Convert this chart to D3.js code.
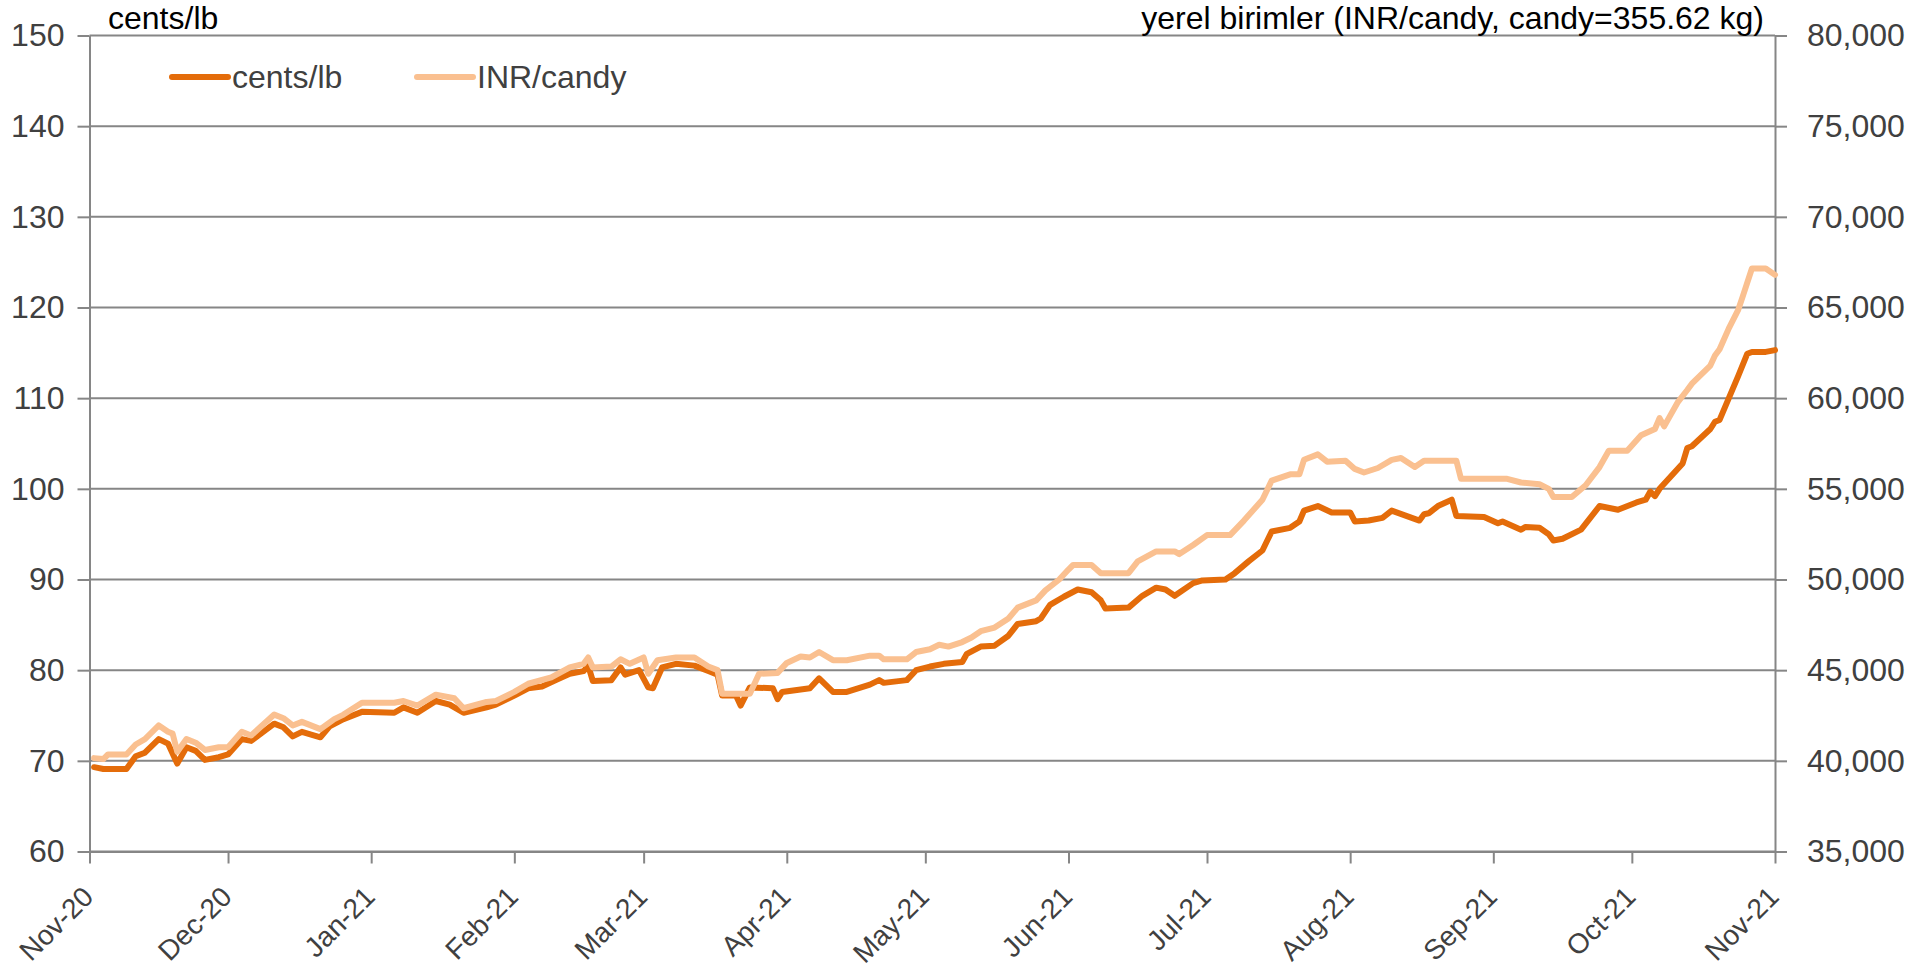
<!DOCTYPE html>
<html lang="tr">

<head>
  <meta charset="utf-8">
  <title>Pamuk fiyatı: cents/lb ve INR/candy</title>
  <script src="https://d3js.org/d3.v7.min.js"></script>
  <style>
    body { margin: 0; background: #ffffff; }
    svg text { font-family: "Liberation Sans", Arial, sans-serif; }
  </style>
</head>

<body>
  <div id="chart"></div>

  <script type="text/javascript">
    "use strict"

    // seri 1: cents/lb (sol eksen)
    var centsTarih = [
      "2020-11-02", "2020-11-04", "2020-11-09", "2020-11-11", "2020-11-13", "2020-11-16", "2020-11-18", "2020-11-20",
      "2020-11-22", "2020-11-24", "2020-11-26", "2020-11-29", "2020-12-01", "2020-12-04", "2020-12-06", "2020-12-11",
      "2020-12-13", "2020-12-15", "2020-12-17", "2020-12-21", "2020-12-23", "2020-12-26", "2020-12-30", "2021-01-06",
      "2021-01-08", "2021-01-11", "2021-01-15", "2021-01-18", "2021-01-21", "2021-01-26", "2021-01-28", "2021-02-01",
      "2021-02-04", "2021-02-07", "2021-02-10", "2021-02-13", "2021-02-16", "2021-02-17", "2021-02-18", "2021-02-22",
      "2021-02-24", "2021-02-25", "2021-02-28", "2021-03-02", "2021-03-03", "2021-03-05", "2021-03-08", "2021-03-12",
      "2021-03-15", "2021-03-17", "2021-03-18", "2021-03-21", "2021-03-22", "2021-03-24", "2021-03-29", "2021-03-30",
      "2021-03-31", "2021-04-06", "2021-04-08", "2021-04-11", "2021-04-14", "2021-04-19", "2021-04-21", "2021-04-22",
      "2021-04-27", "2021-04-29", "2021-05-02", "2021-05-05", "2021-05-09", "2021-05-10", "2021-05-13", "2021-05-16",
      "2021-05-19", "2021-05-21", "2021-05-25", "2021-05-26", "2021-05-28", "2021-05-31", "2021-06-03", "2021-06-06",
      "2021-06-08", "2021-06-09", "2021-06-14", "2021-06-17", "2021-06-20", "2021-06-22", "2021-06-24", "2021-06-28",
      "2021-06-30", "2021-07-05", "2021-07-07", "2021-07-10", "2021-07-13", "2021-07-15", "2021-07-19", "2021-07-21",
      "2021-07-22", "2021-07-25", "2021-07-28", "2021-08-01", "2021-08-02", "2021-08-05", "2021-08-08", "2021-08-10",
      "2021-08-16", "2021-08-17", "2021-08-18", "2021-08-20", "2021-08-23", "2021-08-24", "2021-08-30", "2021-09-02",
      "2021-09-03", "2021-09-07", "2021-09-08", "2021-09-11", "2021-09-13", "2021-09-14", "2021-09-16", "2021-09-20",
      "2021-09-24", "2021-09-28", "2021-10-02", "2021-10-04", "2021-10-05", "2021-10-06", "2021-10-07", "2021-10-12",
      "2021-10-13", "2021-10-14", "2021-10-18", "2021-10-19", "2021-10-20", "2021-10-22", "2021-10-24", "2021-10-26",
      "2021-10-27", "2021-10-30", "2021-11-01"
    ];
    var centsLb = [
      69.3, 69.1, 69.1, 70.5, 70.9, 72.4, 71.9, 69.7,
      71.5, 71.1, 70.1, 70.4, 70.7, 72.4, 72.2, 74.1,
      73.7, 72.7, 73.2, 72.6, 73.8, 74.6, 75.4, 75.3,
      75.9, 75.3, 76.6, 76.2, 75.3, 75.9, 76.2, 77.2,
      78.0, 78.2, 78.9, 79.6, 79.9, 80.5, 78.8, 78.9,
      80.3, 79.5, 80.0, 78.1, 78.0, 80.3, 80.7, 80.5,
      79.9, 79.5, 77.2, 77.2, 76.1, 78.1, 78.0, 76.8,
      77.6, 78.0, 79.1, 77.6, 77.6, 78.4, 78.9, 78.6,
      78.9, 80.0, 80.4, 80.7, 80.9, 81.8, 82.6, 82.7,
      83.8, 85.1, 85.4, 85.7, 87.2, 88.1, 88.9, 88.6,
      87.7, 86.8, 86.9, 88.2, 89.1, 88.9, 88.2, 89.6,
      89.9, 90.0, 90.7, 92.0, 93.2, 95.3, 95.7, 96.4,
      97.6, 98.1, 97.4, 97.4, 96.4, 96.5, 96.8, 97.6,
      96.5, 97.2, 97.3, 98.1, 98.8, 97.0, 96.9, 96.2,
      96.4, 95.5, 95.8, 95.7, 95.0, 94.3, 94.5, 95.5,
      98.1, 97.7, 98.5, 98.8, 99.7, 99.2, 100.0, 102.8,
      104.5, 104.7, 106.6, 107.4, 107.6, 110.0, 112.4, 114.9,
      115.1, 115.1, 115.3
    ];

    // seri 2: INR/candy (sag eksen)
    var inrTarih = [
      "2020-11-02", "2020-11-04", "2020-11-05", "2020-11-09", "2020-11-11", "2020-11-13", "2020-11-16", "2020-11-18",
      "2020-11-19", "2020-11-20", "2020-11-22", "2020-11-24", "2020-11-26", "2020-11-29", "2020-12-01", "2020-12-04",
      "2020-12-06", "2020-12-11", "2020-12-13", "2020-12-15", "2020-12-17", "2020-12-21", "2020-12-24", "2020-12-26",
      "2020-12-30", "2021-01-06", "2021-01-08", "2021-01-11", "2021-01-15", "2021-01-19", "2021-01-21", "2021-01-26",
      "2021-01-28", "2021-02-01", "2021-02-04", "2021-02-09", "2021-02-13", "2021-02-16", "2021-02-17", "2021-02-18",
      "2021-02-22", "2021-02-24", "2021-02-26", "2021-03-01", "2021-03-02", "2021-03-04", "2021-03-08", "2021-03-12",
      "2021-03-15", "2021-03-17", "2021-03-18", "2021-03-24", "2021-03-26", "2021-03-30", "2021-04-01", "2021-04-04",
      "2021-04-06", "2021-04-08", "2021-04-11", "2021-04-14", "2021-04-19", "2021-04-21", "2021-04-22", "2021-04-27",
      "2021-04-29", "2021-05-02", "2021-05-04", "2021-05-06", "2021-05-09", "2021-05-11", "2021-05-13", "2021-05-16",
      "2021-05-19", "2021-05-21", "2021-05-25", "2021-05-27", "2021-05-30", "2021-06-01", "2021-06-02", "2021-06-06",
      "2021-06-08", "2021-06-14", "2021-06-16", "2021-06-20", "2021-06-24", "2021-06-25", "2021-06-28", "2021-07-01",
      "2021-07-06", "2021-07-09", "2021-07-13", "2021-07-15", "2021-07-19", "2021-07-21", "2021-07-22", "2021-07-25",
      "2021-07-27", "2021-07-31", "2021-08-02", "2021-08-04", "2021-08-07", "2021-08-10", "2021-08-12", "2021-08-15",
      "2021-08-17", "2021-08-24", "2021-08-25", "2021-09-04", "2021-09-07", "2021-09-11", "2021-09-13", "2021-09-14",
      "2021-09-18", "2021-09-21", "2021-09-24", "2021-09-26", "2021-09-30", "2021-10-03", "2021-10-06", "2021-10-07",
      "2021-10-08", "2021-10-09", "2021-10-11", "2021-10-13", "2021-10-14", "2021-10-18", "2021-10-19", "2021-10-20",
      "2021-10-22", "2021-10-24", "2021-10-25", "2021-10-27", "2021-10-30", "2021-11-01"
    ];
    var inrCandy = [
      40150, 40100, 40350, 40350, 40900, 41200, 41950, 41600,
      41500, 40500, 41200, 41000, 40600, 40750, 40750, 41600,
      41400, 42550, 42350, 41950, 42150, 41750, 42300, 42550,
      43200, 43200, 43300, 43050, 43650, 43450, 42900, 43250,
      43300, 43800, 44250, 44600, 45150, 45350, 45700, 45150,
      45200, 45600, 45350, 45700, 44800, 45550, 45700, 45700,
      45200, 45000, 43700, 43700, 44800, 44850, 45400, 45750,
      45700, 46000, 45550, 45550, 45800, 45800, 45600, 45600,
      46000, 46150, 46400, 46300, 46550, 46800, 47150, 47350,
      47850, 48450, 48850, 49400, 50000, 50550, 50800, 50800,
      50350, 50350, 51000, 51550, 51550, 51400, 51900, 52450,
      52450, 53250, 54400, 55450, 55800, 55800, 56600, 56900,
      56500, 56550, 56100, 55900, 56150, 56600, 56700, 56200,
      56550, 56550, 55550, 55550, 55350, 55250, 55000, 54550,
      54550, 55200, 56200, 57100, 57100, 57950, 58300, 58900,
      58450, 58900, 59800, 60450, 60800, 61800, 62350, 62700,
      63850, 64850, 65600, 67150, 67150, 66800
    ];

    // eksen degerleri
    var solTikler = [60, 70, 80, 90, 100, 110, 120, 130, 140, 150];
    var sagTikler = [35000, 40000, 45000, 50000, 55000, 60000, 65000, 70000, 75000, 80000];
    var aylar = ["2020-11-01", "2020-12-01", "2021-01-01", "2021-02-01", "2021-03-01", "2021-04-01",
                 "2021-05-01", "2021-06-01", "2021-07-01", "2021-08-01", "2021-09-01", "2021-10-01", "2021-11-01"];

    var seriAdlari = ["cents/lb", "INR/candy"];
    var renkler = ["#e46c0a", "#fac090"];

    // svg ve cizim alani
    var larguraSVG = 1921, alturaSVG = 980;
    var x0 = 89.5, x1 = 1775, yTop = 35.5, yBottom = 851.5;
    var cinza = "#868686", textoCinza = "#404040";
    var fonte = 32, fonteAy = 28;

    var parse = d3.timeParse("%Y-%m-%d");

    function desenha() {
      var svg = d3.select("#chart")
          .append("svg")
          .attr("width", larguraSVG)
          .attr("height", alturaSVG);

      var x = d3.scaleTime()
          .domain([parse(aylar[0]), parse(aylar[aylar.length - 1])])
          .range([x0, x1]);
      var ySol = d3.scaleLinear()
          .domain([60, 150])
          .range([yBottom, yTop]);
      var ySag = d3.scaleLinear()
          .domain([35000, 80000])
          .range([yBottom, yTop]);

      // yatay izgara cizgileri
      svg.append("g")
          .selectAll("line")
          .data(solTikler)
          .enter()
          .append("line")
          .attr("x1", x0).attr("x2", x1)
          .attr("y1", d => ySol(d)).attr("y2", d => ySol(d))
          .attr("stroke", cinza)
          .attr("stroke-width", 2);

      // sol eksen
      var eSol = svg.append("g")
          .attr("transform", "translate(" + x0 + ",0)")
          .call(d3.axisLeft(ySol).tickValues(solTikler).tickSize(12).tickPadding(13).tickSizeOuter(0));

      // sag eksen
      var eSag = svg.append("g")
          .attr("transform", "translate(" + x1 + ",0)")
          .call(d3.axisRight(ySag).tickValues(sagTikler).tickSize(12).tickPadding(20).tickSizeOuter(0)
                .tickFormat(d3.format(",")));

      // alt eksen (aylar)
      var eAlt = svg.append("g")
          .attr("transform", "translate(0," + yBottom + ")")
          .call(d3.axisBottom(x).tickValues(aylar.map(parse)).tickSize(12).tickSizeOuter(0)
                .tickFormat(d3.timeFormat("%b-%y")));

      [eSol, eSag, eAlt].forEach(function(e) {
        e.select(".domain").attr("stroke", cinza).attr("stroke-width", 2);
        e.selectAll(".tick line").attr("stroke", cinza).attr("stroke-width", 2);
        e.selectAll(".tick text")
            .attr("fill", textoCinza)
            .style("font-size", fonte + "px")
            .style("font-family", "'Liberation Sans', Arial, sans-serif");
      });

      eAlt.selectAll(".tick text")
          .attr("x", 0).attr("y", 0).attr("dy", "0.35em")
          .attr("text-anchor", "end")
          .attr("transform", "translate(-2,40) rotate(-45)")
          .style("font-size", fonteAy + "px");

      // cizgiler
      var linhaSol = d3.line()
          .x(d => x(d[0]))
          .y(d => ySol(d[1]));
      var linhaSag = d3.line()
          .x(d => x(d[0]))
          .y(d => ySag(d[1]));

      svg.append("path")
          .datum(centsTarih.map((t, i) => [parse(t), centsLb[i]]))
          .attr("d", linhaSol)
          .attr("fill", "none")
          .attr("stroke", renkler[0])
          .attr("stroke-width", 6)
          .attr("stroke-linejoin", "round")
          .attr("stroke-linecap", "round");

      svg.append("path")
          .datum(inrTarih.map((t, i) => [parse(t), inrCandy[i]]))
          .attr("d", linhaSag)
          .attr("fill", "none")
          .attr("stroke", renkler[1])
          .attr("stroke-width", 6)
          .attr("stroke-linejoin", "round")
          .attr("stroke-linecap", "round");

      // eksen basliklari
      svg.append("text")
          .attr("x", 108).attr("y", 29)
          .attr("fill", "#000")
          .style("font-size", fonte + "px")
          .text("cents/lb");
      svg.append("text")
          .attr("x", 1764).attr("y", 29)
          .attr("text-anchor", "end")
          .attr("fill", "#000")
          .style("font-size", fonte + "px")
          .text("yerel birimler (INR/candy, candy=355.62 kg)");

      // lejant
      var lejX = [172, 417];
      var lej = svg.append("g")
          .selectAll("g")
          .data(seriAdlari)
          .enter()
          .append("g")
          .attr("transform", (d, i) => "translate(" + lejX[i] + ",77)");
      lej.append("line")
          .attr("x1", 0).attr("x2", 56)
          .attr("stroke", (d, i) => renkler[i])
          .attr("stroke-width", 6)
          .attr("stroke-linecap", "round");
      lej.append("text")
          .attr("x", 60).attr("dy", "0.35em")
          .attr("fill", textoCinza)
          .style("font-size", fonte + "px")
          .text(d => d);
    }

    desenha();
  </script>
</body>

</html>
